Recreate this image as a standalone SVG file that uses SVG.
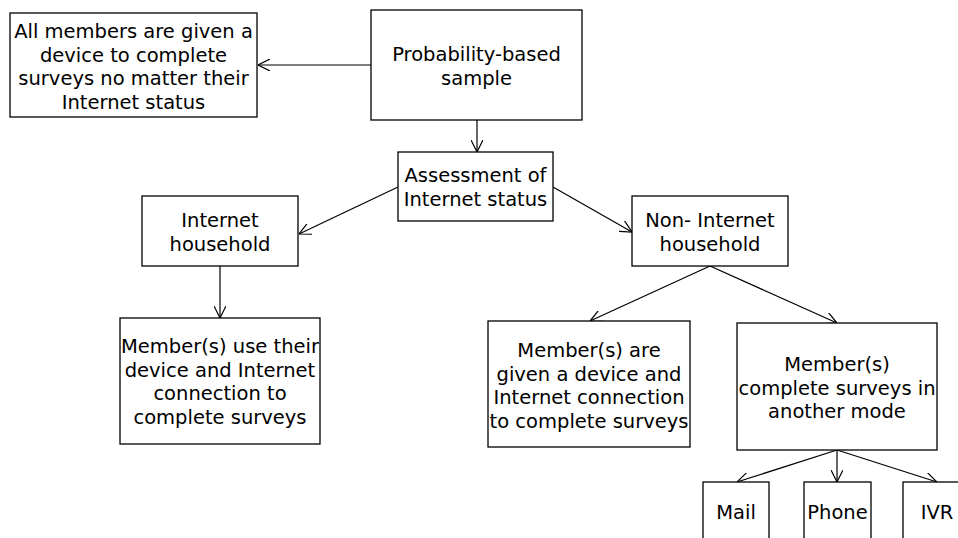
<svg xmlns="http://www.w3.org/2000/svg" width="958" height="538" viewBox="0 0 958 538">
<style>
.box{fill:#fff;stroke:#000;stroke-width:1.3}
.t{font-family:"DejaVu Sans",Verdana,sans-serif;font-size:19.5px;fill:#000;text-anchor:middle}
.c{stroke:#000;stroke-width:1.2;fill:none}
</style>
<defs>
<marker id="a" viewBox="0 0 12 12" refX="12" refY="6" markerWidth="12" markerHeight="12" markerUnits="userSpaceOnUse" orient="auto">
<path d="M0,0 L12,6 L0,12" fill="none" stroke="#000" stroke-width="1.2"/>
</marker>
</defs>
<rect width="958" height="538" fill="#fff"/>
<g id="connectors">
<line class="c" x1="371" y1="65" x2="258" y2="65" marker-end="url(#a)"/>
<line class="c" x1="477" y1="120" x2="477" y2="152" marker-end="url(#a)"/>
<line class="c" x1="398" y1="187" x2="299" y2="234" marker-end="url(#a)"/>
<line class="c" x1="553" y1="187" x2="632" y2="232" marker-end="url(#a)"/>
<line class="c" x1="220" y1="266" x2="220" y2="318" marker-end="url(#a)"/>
<line class="c" x1="710" y1="266" x2="590" y2="321" marker-end="url(#a)"/>
<line class="c" x1="710" y1="266" x2="837" y2="323" marker-end="url(#a)"/>
<line class="c" x1="837" y1="450" x2="737" y2="482" marker-end="url(#a)"/>
<line class="c" x1="837" y1="450" x2="837" y2="482" marker-end="url(#a)"/>
<line class="c" x1="837" y1="450" x2="937" y2="482" marker-end="url(#a)"/>
</g>
<g id="allmembers">
<rect class="box" x="10" y="13" width="247" height="104"/>
<text class="t" x="133.5" y="38">All members are given a</text>
<text class="t" x="133.5" y="61.5">device to complete</text>
<text class="t" x="133.5" y="85">surveys no matter their</text>
<text class="t" x="133.5" y="108.5">Internet status</text>
</g>
<g id="probability">
<rect class="box" x="371" y="10" width="211" height="110"/>
<text class="t" x="476.5" y="61">Probability-based</text>
<text class="t" x="476.5" y="84.5">sample</text>
</g>
<g id="assessment">
<rect class="box" x="398" y="152" width="155" height="69"/>
<text class="t" x="475.5" y="182">Assessment of</text>
<text class="t" x="475.5" y="205.5">Internet status</text>
</g>
<g id="internet">
<rect class="box" x="142" y="196" width="156" height="70"/>
<text class="t" x="220" y="227">Internet</text>
<text class="t" x="220" y="250.5">household</text>
</g>
<g id="noninternet">
<rect class="box" x="632" y="196" width="156" height="70"/>
<text class="t" x="710" y="227">Non- Internet</text>
<text class="t" x="710" y="250.5">household</text>
</g>
<g id="useown">
<rect class="box" x="120" y="318" width="200" height="126"/>
<text class="t" x="220" y="353">Member(s) use their</text>
<text class="t" x="220" y="376.5">device and Internet</text>
<text class="t" x="220" y="400">connection to</text>
<text class="t" x="220" y="423.5">complete surveys</text>
</g>
<g id="given">
<rect class="box" x="488" y="321" width="202" height="126"/>
<text class="t" x="589" y="357">Member(s) are</text>
<text class="t" x="589" y="380.5">given a device and</text>
<text class="t" x="589" y="404">Internet connection</text>
<text class="t" x="589" y="427.5">to complete surveys</text>
</g>
<g id="othermode">
<rect class="box" x="737" y="323" width="200" height="127"/>
<text class="t" x="837" y="371">Member(s)</text>
<text class="t" x="837" y="394.5">complete surveys in</text>
<text class="t" x="837" y="418">another mode</text>
</g>
<g id="mail">
<rect class="box" x="703" y="482" width="66" height="80"/>
<text class="t" x="736" y="519">Mail</text>
</g>
<g id="phone">
<rect class="box" x="804" y="482" width="67" height="80"/>
<text class="t" x="837.5" y="519">Phone</text>
</g>
<g id="ivr">
<rect class="box" x="903" y="482" width="68" height="80"/>
<text class="t" x="937" y="519">IVR</text>
</g>
</svg>
